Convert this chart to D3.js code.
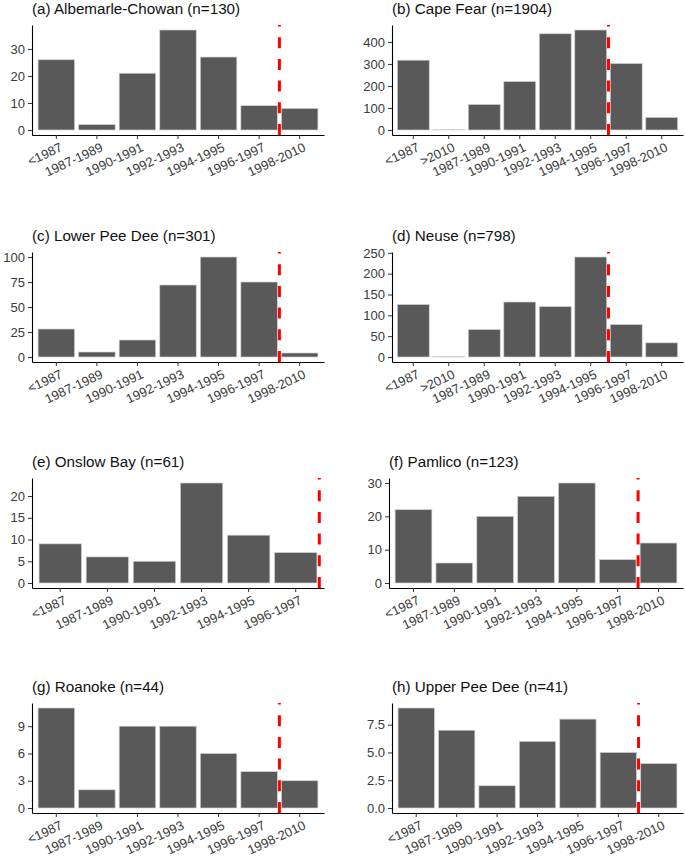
<!doctype html>
<html>
<head>
<meta charset="utf-8">
<style>
  body { margin: 0; background: #fff; }
  svg { display: block; font-family: "Liberation Sans", Arial, sans-serif; }
  .title { font-size: 15.2px; fill: #111; }
  .axis text { font-size: 13px; fill: #3a3a3a; }
  .axis .domain { stroke: #000; stroke-width: 1.1; }
  .axis .tick line { stroke: #333; }
  .bar { fill: #595959; stroke: #d0d0d0; stroke-width: 0.7; }
  .cut { stroke: #ff0000; stroke-width: 3; stroke-dasharray: 11 10.7; }
</style>
<script src="https://d3js.org/d3.v7.min.js"></script>
</head>
<body>
<script>
// categories
var cats7 = ['<1987', '1987-1989', '1990-1991', '1992-1993', '1994-1995', '1996-1997', '1998-2010'];
var cats8 = ['<1987', '>2010', '1987-1989', '1990-1991', '1992-1993', '1994-1995', '1996-1997', '1998-2010'];
var cats6 = ['<1987', '1987-1989', '1990-1991', '1992-1993', '1994-1995', '1996-1997'];

// counts per basin
var albemarle = [26, 2, 21, 37, 27, 9, 8];
var capeFear = [317, 1, 116, 220, 437, 454, 302, 57];
var lowerPeeDee = [28, 5, 17, 72, 100, 75, 4];
var neuse = [126, 1, 66, 132, 121, 240, 78, 34];
var onslow = [9, 6, 5, 23, 11, 7];
var pamlico = [22, 6, 20, 26, 30, 7, 12];
var roanoke = [11, 2, 9, 9, 6, 4, 3];
var upperPeeDee = [9, 7, 2, 6, 8, 5, 4];

// y tick values
var ticksA = [0, 10, 20, 30];
var ticksB = [0, 100, 200, 300, 400];
var ticksC = [0, 25, 50, 75, 100];
var ticksD = [0, 50, 100, 150, 200, 250];
var ticksE = [0, 5, 10, 15, 20];
var ticksF = [0, 10, 20, 30];
var ticksG = [0, 3, 6, 9];
var ticksH = [0, 2.5, 5, 7.5];

var titles = ['(a) Albemarle-Chowan (n=130)', '(b) Cape Fear (n=1904)', '(c) Lower Pee Dee (n=301)',
  '(d) Neuse (n=798)', '(e) Onslow Bay (n=61)', '(f) Pamlico (n=123)', '(g) Roanoke (n=44)',
  '(h) Upper Pee Dee (n=41)'];

var panels = [
  {cats: cats7, vals: albemarle, ticks: ticksA, fmt: d3.format('d')},
  {cats: cats8, vals: capeFear, ticks: ticksB, fmt: d3.format('d')},
  {cats: cats7, vals: lowerPeeDee, ticks: ticksC, fmt: d3.format('d')},
  {cats: cats8, vals: neuse, ticks: ticksD, fmt: d3.format('d')},
  {cats: cats6, vals: onslow, ticks: ticksE, fmt: d3.format('d')},
  {cats: cats7, vals: pamlico, ticks: ticksF, fmt: d3.format('d')},
  {cats: cats7, vals: roanoke, ticks: ticksG, fmt: d3.format('d')},
  {cats: cats7, vals: upperPeeDee, ticks: ticksH, fmt: d3.format('.1f')}
];

// panel frames (left, right) per column, top per row
var colLeft = [[32, 324], [392, 683]];
var rowTop = [25, 252, 478, 703];
var plotH = 110;

var svg = d3.select('body').append('svg')
  .attr('width', 685)
  .attr('height', 865);

panels.forEach(function(p, i) {
  var col = i % 2, row = Math.floor(i / 2);
  var left = colLeft[col][0], right = colLeft[col][1];
  if (i == 5) left = 389;
  var top = rowTop[row], bottom = top + plotH;
  var maxV = d3.max(p.vals);

  var x = d3.scaleBand().domain(p.cats).range([left, right])
    .paddingInner(0.1).paddingOuter(0.15);
  var y = d3.scaleLinear().domain([-0.05 * maxV, 1.05 * maxV]).range([bottom, top]);

  var g = svg.append('g');

  g.append('text')
    .attr('class', 'title')
    .attr('x', left)
    .attr('y', top - 11)
    .text(titles[i]);

  g.selectAll('.bar')
    .data(p.vals)
    .enter().append('rect')
    .attr('class', 'bar')
    .attr('x', (d, j) => x(p.cats[j]))
    .attr('width', x.bandwidth())
    .attr('y', d => y(d))
    .attr('height', d => y(0) - y(d));

  // cut line sits half a step after the sixth category
  var cx = x(p.cats[5]) + x.bandwidth() / 2 + x.step() / 2;
  g.append('line')
    .attr('class', 'cut')
    .attr('x1', cx).attr('x2', cx)
    .attr('y1', bottom).attr('y2', top);

  var xa = g.append('g')
    .attr('class', 'axis')
    .attr('transform', `translate(0,${bottom})`)
    .call(d3.axisBottom(x).tickSize(4).tickSizeOuter(0));
  xa.selectAll('text')
    .attr('text-anchor', 'end')
    .attr('x', 3)
    .attr('y', 7)
    .attr('dy', '0.72em')
    .attr('transform', 'rotate(-25 3 7)');

  g.append('g')
    .attr('class', 'axis')
    .attr('transform', `translate(${left},0)`)
    .call(d3.axisLeft(y).tickValues(p.ticks).tickFormat(p.fmt).tickSize(4).tickPadding(3).tickSizeOuter(0));
});
</script>
</body>
</html>
